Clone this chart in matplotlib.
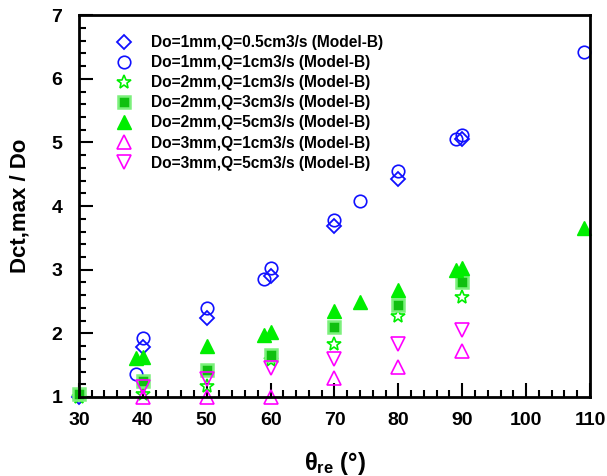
import matplotlib
matplotlib.use("Agg")
import matplotlib.pyplot as plt
from matplotlib.ticker import MultipleLocator

plt.rcParams['font.family'] = ['Liberation Sans', 'DejaVu Sans']
plt.rcParams['font.weight'] = 'bold'
plt.rcParams['mathtext.fontset'] = 'custom'
plt.rcParams['mathtext.bf'] = 'Liberation Sans:bold'
plt.rcParams['mathtext.rm'] = 'Liberation Sans:bold'
plt.rcParams['mathtext.default'] = 'bf'

# data
x_d1q05 = [30, 40, 50, 60, 70, 80, 90]
y_d1q05 = [1.0, 1.78, 2.24, 2.90, 3.68, 4.43, 5.05]

x_d1q1 = [39, 40, 50, 59, 60, 70, 74, 80, 89, 90, 109]
y_d1q1 = [1.36, 1.92, 2.40, 2.86, 3.02, 3.78, 4.08, 4.55, 5.05, 5.12, 6.42]

x_d2q1 = [30, 40, 50, 60, 70, 80, 90]
y_d2q1 = [1.0, 1.05, 1.18, 1.58, 1.84, 2.28, 2.57]

x_d2q3 = [30, 40, 50, 60, 70, 80, 90]
y_d2q3 = [1.05, 1.25, 1.42, 1.66, 2.10, 2.45, 2.80]

x_d2q5 = [39, 40, 50, 59, 60, 70, 74, 80, 89, 90, 109]
y_d2q5 = [1.62, 1.63, 1.80, 1.97, 2.02, 2.35, 2.50, 2.68, 3.00, 3.02, 3.65]

x_d3q1 = [40, 50, 60, 70, 80, 90]
y_d3q1 = [1.0, 1.0, 1.0, 1.30, 1.47, 1.72]

x_d3q5 = [40, 50, 60, 70, 80, 90]
y_d3q5 = [1.15, 1.28, 1.45, 1.60, 1.84, 2.05]

labels = ["Do=1mm,Q=0.5cm3/s (Model-B)", "Do=1mm,Q=1cm3/s (Model-B)",
          "Do=2mm,Q=1cm3/s (Model-B)", "Do=2mm,Q=3cm3/s (Model-B)",
          "Do=2mm,Q=5cm3/s (Model-B)", "Do=3mm,Q=1cm3/s (Model-B)",
          "Do=3mm,Q=5cm3/s (Model-B)"]

fig = plt.figure(figsize=(6.07, 4.76), dpi=100)
ax = fig.add_axes([0.130, 0.166, 0.842, 0.802])

blue = '#1010ff'
green = '#00ee00'
mag = '#ff00ff'
ms = 9
ax.plot(x_d1q05, y_d1q05, 'D', ms=ms - 1.5, mfc='none', mec=blue, mew=1.3, ls='none', label=labels[0], clip_on=False)
ax.plot(x_d1q1, y_d1q1, 'o', ms=ms, mfc='none', mec=blue, mew=1.2, ls='none', label=labels[1], clip_on=False)
ax.plot(x_d2q1, y_d2q1, '*', ms=ms + 1, mfc='none', mec=green, mew=1.2, ls='none', label=labels[2], clip_on=False)
ax.plot(x_d2q3, y_d2q3, 's', ms=ms - 1, mfc='#10c010', mec='#7cf07c', mew=1.8, ls='none', label=labels[3], clip_on=False)
ax.plot(x_d2q5, y_d2q5, '^', ms=ms + 1, mfc=green, mec=green, mew=1, ls='none', label=labels[4], clip_on=False)
ax.plot(x_d3q1, y_d3q1, '^', ms=ms + 1, mfc='none', mec=mag, mew=1.2, ls='none', label=labels[5], clip_on=False)
ax.plot(x_d3q5, y_d3q5, 'v', ms=ms + 1, mfc='none', mec=mag, mew=1.2, ls='none', label=labels[6], clip_on=False)

ax.set_xlim(30, 110)
ax.set_ylim(1, 7)
ax.xaxis.set_major_locator(MultipleLocator(10))
ax.xaxis.set_minor_locator(MultipleLocator(2))
ax.yaxis.set_major_locator(MultipleLocator(1))
ax.yaxis.set_minor_locator(MultipleLocator(0.2))
ax.tick_params(which='both', direction='in', top=False, right=False, width=1.5)
ax.tick_params(which='major', length=10, labelsize=14)
ax.tick_params(axis='x', which='major', pad=11)
ax.tick_params(axis='y', which='major', pad=12)
ax.tick_params(which='minor', length=5)
for lab in ax.get_xticklabels() + ax.get_yticklabels():
    lab.set_fontweight('bold')
for sp in ax.spines.values():
    sp.set_linewidth(2)

ax.set_xlabel(r'θ$_{re}$ (°)', fontsize=17, fontweight='bold', labelpad=15)
ax.set_ylabel('Dct,max / Do', fontsize=16, fontweight='bold', labelpad=15)

ax.legend(loc='upper left', frameon=False, prop={'weight': 'bold', 'size': 11.2},
          bbox_to_anchor=(0.03, 0.985), handletextpad=0.75, labelspacing=0.33, numpoints=1)

fig.savefig('out.png', dpi=100)
